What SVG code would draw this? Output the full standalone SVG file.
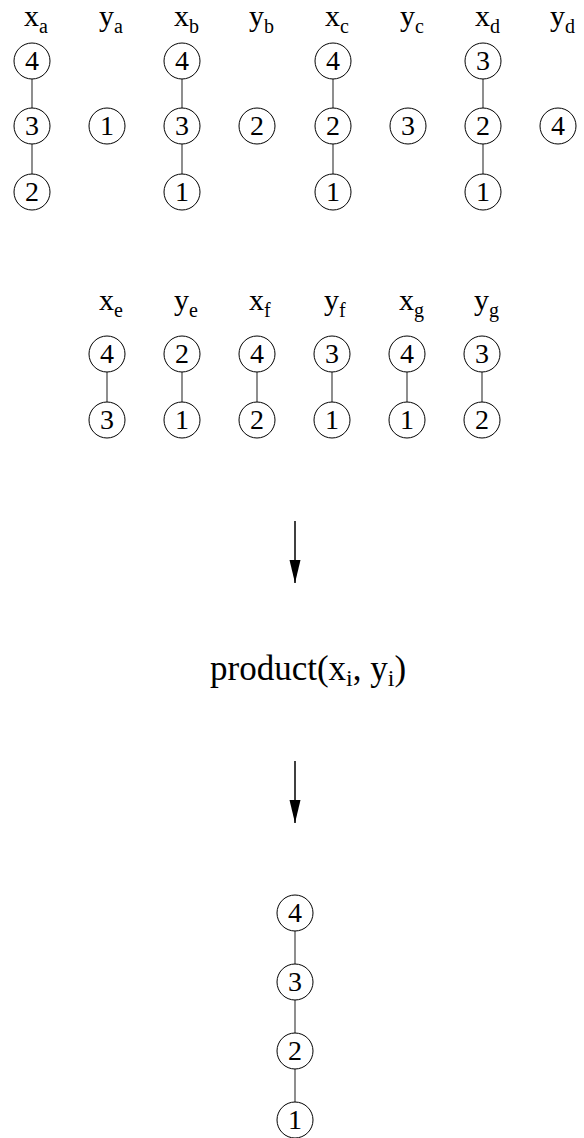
<svg xmlns="http://www.w3.org/2000/svg" width="584" height="1138" viewBox="0 0 584 1138" font-family="'Liberation Serif', 'DejaVu Serif', serif">
<style>
text{font-family:"Liberation Serif","DejaVu Serif",serif;fill:#000}
.n circle{fill:#fff;stroke:#000;stroke-width:1}
.n text{font-size:28px;text-anchor:middle}
.lbl{font-size:30px}
.sub{font-size:20px}
.c line{stroke:#444;stroke-width:1.2}
.ar line{stroke:#000;stroke-width:1.5}
</style>
<defs>
<marker id="arr" markerWidth="24" markerHeight="12" refX="23" refY="6" orient="auto" markerUnits="userSpaceOnUse">
<path d="M0,0.5 L23,6 L0,11.5 Z" fill="#000"/>
</marker>
</defs>
<rect width="584" height="1138" fill="#fff"/>

<g id="labels-top">
<text class="lbl" x="24" y="26">x<tspan class="sub" dy="7">a</tspan></text>
<text class="lbl" x="99" y="26">y<tspan class="sub" dy="7">a</tspan></text>
<text class="lbl" x="174" y="26">x<tspan class="sub" dy="7">b</tspan></text>
<text class="lbl" x="249" y="26">y<tspan class="sub" dy="7">b</tspan></text>
<text class="lbl" x="325" y="26">x<tspan class="sub" dy="7">c</tspan></text>
<text class="lbl" x="400" y="26">y<tspan class="sub" dy="7">c</tspan></text>
<text class="lbl" x="475" y="26">x<tspan class="sub" dy="7">d</tspan></text>
<text class="lbl" x="550" y="26">y<tspan class="sub" dy="7">d</tspan></text>
</g>

<g id="labels-mid">
<text class="lbl" x="99" y="310">x<tspan class="sub" dy="7">e</tspan></text>
<text class="lbl" x="174" y="310">y<tspan class="sub" dy="7">e</tspan></text>
<text class="lbl" x="249" y="310">x<tspan class="sub" dy="7">f</tspan></text>
<text class="lbl" x="324" y="310">y<tspan class="sub" dy="7">f</tspan></text>
<text class="lbl" x="399" y="310">x<tspan class="sub" dy="7">g</tspan></text>
<text class="lbl" x="474" y="310">y<tspan class="sub" dy="7">g</tspan></text>
</g>

<g id="connectors" class="c">
<line x1="32" y1="79" x2="32" y2="108"/>
<line x1="32" y1="144" x2="32" y2="174"/>
<line x1="182" y1="79" x2="182" y2="108"/>
<line x1="182" y1="144" x2="182" y2="174"/>
<line x1="333" y1="79" x2="333" y2="108"/>
<line x1="333" y1="144" x2="333" y2="174"/>
<line x1="483" y1="79" x2="483" y2="108"/>
<line x1="483" y1="144" x2="483" y2="174"/>
<line x1="107" y1="372" x2="107" y2="402"/>
<line x1="182" y1="372" x2="182" y2="402"/>
<line x1="257" y1="372" x2="257" y2="402"/>
<line x1="332" y1="372" x2="332" y2="402"/>
<line x1="407" y1="372" x2="407" y2="402"/>
<line x1="482" y1="372" x2="482" y2="402"/>
<line x1="295" y1="931" x2="295" y2="964"/>
<line x1="295" y1="1000" x2="295" y2="1033"/>
<line x1="295" y1="1069" x2="295" y2="1102"/>
</g>

<g id="arrows" class="ar">
<line x1="295" y1="521" x2="295" y2="583" marker-end="url(#arr)"/>
<line x1="295" y1="761" x2="295" y2="823" marker-end="url(#arr)"/>
</g>

<g id="xa" class="n">
<circle cx="32" cy="61" r="18"/><text x="32" y="70">4</text>
<circle cx="32" cy="126" r="18"/><text x="32" y="135">3</text>
<circle cx="32" cy="192" r="18"/><text x="32" y="201">2</text>
</g>
<g id="ya" class="n"><circle cx="107" cy="126" r="18"/><text x="107" y="135">1</text></g>
<g id="xb" class="n">
<circle cx="182" cy="61" r="18"/><text x="182" y="70">4</text>
<circle cx="182" cy="126" r="18"/><text x="182" y="135">3</text>
<circle cx="182" cy="192" r="18"/><text x="182" y="201">1</text>
</g>
<g id="yb" class="n"><circle cx="257" cy="126" r="18"/><text x="257" y="135">2</text></g>
<g id="xc" class="n">
<circle cx="333" cy="61" r="18"/><text x="333" y="70">4</text>
<circle cx="333" cy="126" r="18"/><text x="333" y="135">2</text>
<circle cx="333" cy="192" r="18"/><text x="333" y="201">1</text>
</g>
<g id="yc" class="n"><circle cx="408" cy="126" r="18"/><text x="408" y="135">3</text></g>
<g id="xd" class="n">
<circle cx="483" cy="61" r="18"/><text x="483" y="70">3</text>
<circle cx="483" cy="126" r="18"/><text x="483" y="135">2</text>
<circle cx="483" cy="192" r="18"/><text x="483" y="201">1</text>
</g>
<g id="yd" class="n"><circle cx="558" cy="126" r="18"/><text x="558" y="135">4</text></g>

<g id="xe" class="n">
<circle cx="107" cy="354" r="18"/><text x="107" y="363">4</text>
<circle cx="107" cy="420" r="18"/><text x="107" y="429">3</text>
</g>
<g id="ye" class="n">
<circle cx="182" cy="354" r="18"/><text x="182" y="363">2</text>
<circle cx="182" cy="420" r="18"/><text x="182" y="429">1</text>
</g>
<g id="xf" class="n">
<circle cx="257" cy="354" r="18"/><text x="257" y="363">4</text>
<circle cx="257" cy="420" r="18"/><text x="257" y="429">2</text>
</g>
<g id="yf" class="n">
<circle cx="332" cy="354" r="18"/><text x="332" y="363">3</text>
<circle cx="332" cy="420" r="18"/><text x="332" y="429">1</text>
</g>
<g id="xg" class="n">
<circle cx="407" cy="354" r="18"/><text x="407" y="363">4</text>
<circle cx="407" cy="420" r="18"/><text x="407" y="429">1</text>
</g>
<g id="yg" class="n">
<circle cx="482" cy="354" r="18"/><text x="482" y="363">3</text>
<circle cx="482" cy="420" r="18"/><text x="482" y="429">2</text>
</g>

<g id="product">
<text x="210" y="680" style="font-size:35px">product(x<tspan style="font-size:24px" dy="6">i</tspan><tspan dy="-6">, y</tspan><tspan style="font-size:24px" dy="6">i</tspan><tspan dy="-6">)</tspan></text>
</g>

<g id="result" class="n">
<circle cx="295" cy="913" r="18"/><text x="295" y="922">4</text>
<circle cx="295" cy="982" r="18"/><text x="295" y="991">3</text>
<circle cx="295" cy="1051" r="18"/><text x="295" y="1060">2</text>
<circle cx="295" cy="1120" r="18"/><text x="295" y="1129">1</text>
</g>
</svg>
